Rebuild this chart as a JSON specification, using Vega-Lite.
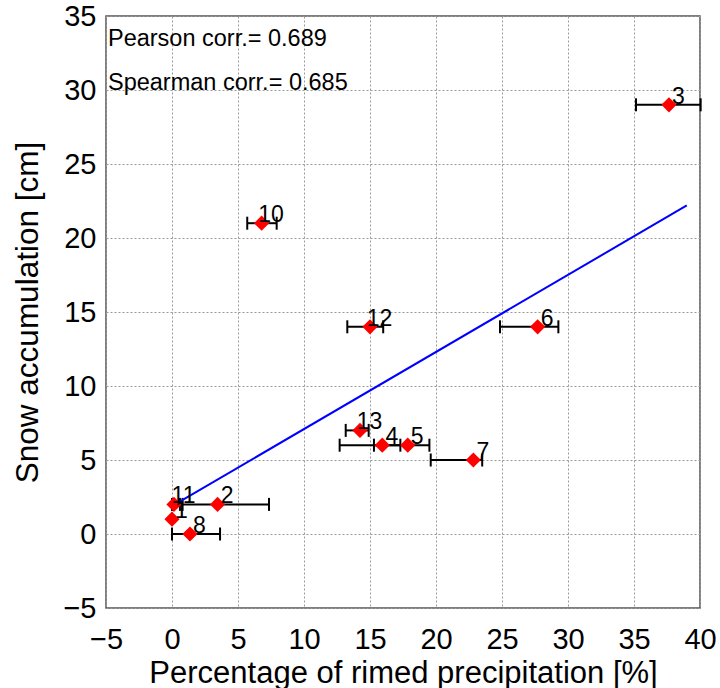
{
  "$schema": "https://vega.github.io/schema/vega-lite/v6.json",
  "autosize": "none",
  "width": 594,
  "height": 592,
  "padding": {"left": 106, "top": 16, "right": 20, "bottom": 80},
  "background": "white",
  "config": {
    "font": "Liberation Sans",
    "view": {"stroke": "#555", "strokeWidth": 1.5},
    "axis": {
      "domain": false,
      "ticks": false,
      "grid": true,
      "gridColor": "#999",
      "gridDash": [2, 2],
      "gridWidth": 1,
      "labelFlush": false,
      "labelOverlap": false,
      "labelFont": "Liberation Sans",
      "labelFontSize": 29,
      "labelColor": "#000",
      "titleFont": "Liberation Sans",
      "titleFontWeight": "normal",
      "titleColor": "#000"
    }
  },
  "datasets": {
    "pts": [
      {"id": "1", "x": 0.0, "y": 1, "xmin": 0.0, "xmax": 0.0},
      {"id": "2", "x": 3.45, "y": 2, "xmin": 0.8, "xmax": 7.35},
      {"id": "3", "x": 37.65, "y": 29, "xmin": 35.15, "xmax": 40.05},
      {"id": "4", "x": 15.93, "y": 6, "xmin": 12.7, "xmax": 17.3},
      {"id": "5", "x": 17.86, "y": 6, "xmin": 15.3, "xmax": 19.5},
      {"id": "6", "x": 27.7, "y": 14, "xmin": 24.85, "xmax": 29.27},
      {"id": "7", "x": 22.83, "y": 5, "xmin": 19.6, "xmax": 23.5},
      {"id": "8", "x": 1.36, "y": 0, "xmin": 0.0, "xmax": 3.64},
      {"id": "10", "x": 6.79, "y": 21, "xmin": 5.7, "xmax": 7.93},
      {"id": "11", "x": 0.15, "y": 2, "xmin": 0.0, "xmax": 0.6},
      {"id": "12", "x": 15.0, "y": 14, "xmin": 13.28, "xmax": 16.0},
      {"id": "13", "x": 14.24, "y": 7, "xmin": 13.16, "xmax": 14.9}
    ],
    "fit": [
      {"x": 0, "y": 1.88},
      {"x": 39, "y": 22.2}
    ],
    "notes": [
      {"x": -4.85, "y": 33, "text": "Pearson corr.= 0.689"},
      {"x": -4.85, "y": 30, "text": "Spearman corr.= 0.685"}
    ]
  },
  "encoding": {
    "x": {
      "type": "quantitative",
      "scale": {"domain": [-5, 40], "nice": false, "zero": false},
      "axis": {
        "values": [-5, 0, 5, 10, 15, 20, 25, 30, 35, 40],
        "title": "Percentage of rimed precipitation [%]",
        "titleFontSize": 31,
        "labelPadding": 17,
        "titleY": 74,
        "titleBaseline": "alphabetic"
      }
    },
    "y": {
      "type": "quantitative",
      "scale": {"domain": [-5, 35], "nice": false, "zero": false},
      "axis": {
        "values": [-5, 0, 5, 10, 15, 20, 25, 30, 35],
        "title": "Snow accumulation [cm]",
        "titleFontSize": 31.5,
        "labelPadding": 10,
        "titleX": -69,
        "titleY": 296,
        "titleAngle": 270,
        "titleAlign": "center",
        "titleBaseline": "alphabetic"
      }
    }
  },
  "layer": [
    {
      "data": {"name": "pts"},
      "mark": {"type": "rule", "color": "#000", "strokeWidth": 2},
      "encoding": {
        "x": {"field": "xmin"},
        "x2": {"field": "xmax"},
        "y": {"field": "y"}
      }
    },
    {
      "data": {"name": "pts"},
      "mark": {"type": "tick", "orient": "vertical", "color": "#000", "size": 13, "thickness": 2, "opacity": 1},
      "encoding": {
        "x": {"field": "xmin"},
        "y": {"field": "y"}
      }
    },
    {
      "data": {"name": "pts"},
      "mark": {"type": "tick", "orient": "vertical", "color": "#000", "size": 13, "thickness": 2, "opacity": 1},
      "encoding": {
        "x": {"field": "xmax"},
        "y": {"field": "y"}
      }
    },
    {
      "data": {"name": "fit"},
      "mark": {"type": "line", "color": "#0000ff", "strokeWidth": 2},
      "encoding": {
        "x": {"field": "x"},
        "y": {"field": "y"}
      }
    },
    {
      "data": {"name": "pts"},
      "mark": {"type": "point", "shape": "diamond", "filled": true, "color": "#ff0000", "size": 230, "opacity": 1},
      "encoding": {
        "x": {"field": "x"},
        "y": {"field": "y"}
      }
    },
    {
      "data": {"name": "pts"},
      "mark": {"type": "text", "align": "center", "baseline": "alphabetic", "dx": 9.5, "dy": -1, "fontSize": 23, "color": "#000"},
      "encoding": {
        "x": {"field": "x"},
        "y": {"field": "y"},
        "text": {"field": "id"}
      }
    },
    {
      "data": {"name": "notes"},
      "mark": {"type": "text", "align": "left", "baseline": "alphabetic", "fontSize": 23.5, "color": "#000"},
      "encoding": {
        "x": {"field": "x"},
        "y": {"field": "y"},
        "text": {"field": "text"}
      }
    }
  ]
}
